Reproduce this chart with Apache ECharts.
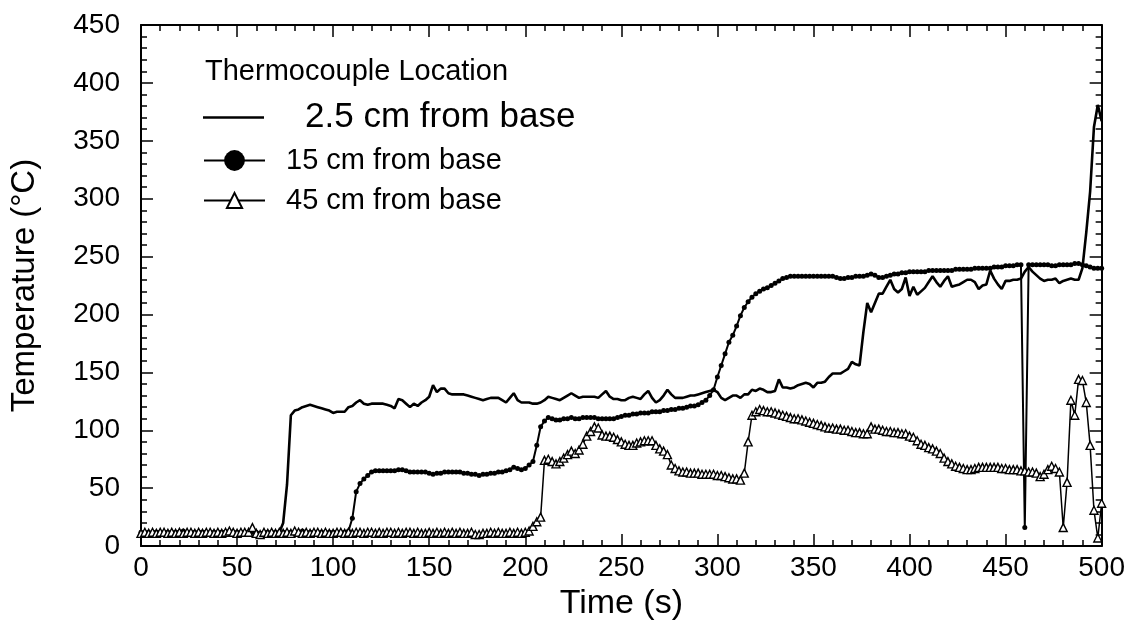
<!DOCTYPE html>
<html>
<head>
<meta charset="utf-8">
<script src="https://cdn.jsdelivr.net/npm/echarts@6/dist/echarts.min.js"></script>
<style>html,body{margin:0;padding:0;background:#fff}#chart{width:1128px;height:626px}</style>
</head>
<body>
<div id="chart"></div>
<script>
// Sampling step of the data logger (s); readings start at 0 s and end at 500 s
const timeStep = 2;
const timeEnd = 500;

const seriesNames = ['2.5 cm from base', '15 cm from base', '45 cm from base'];
const legendTitle = 'Thermocouple Location';
const xTitle = 'Time (s)';
const yTitle = 'Temperature (\u00B0C)';

// 2.5 cm from base (every 2 s)
const temp25 = [
  12,12,11,12,13,12,12,11,12,12,
  13,12,12,11,12,12,13,12,11,12,
  12,13,12,12,11,12,12,13,11,13,
  10,12,8,11,9,12,12,20,53,113,
  117,118,120,121,122,121,120,119,118,117,
  115,116,116,116,120,121,124,126,123,122,
  123,123,123,123,122,121,119,127,126,123,
  120,123,121,124,126,129,139,133,136,136,
  132,131,131,131,131,130,129,128,127,126,
  127,128,128,128,126,124,128,132,126,124,
  124,124,123,123,124,126,129,128,127,126,
  128,130,132,130,128,129,129,129,129,128,
  131,134,129,127,127,126,126,128,129,128,
  127,131,134,128,124,126,130,135,131,128,
  128,128,129,130,130,131,132,133,134,135,
  133,128,126,128,130,130,128,131,131,135,
  134,136,135,133,133,134,144,137,137,136,
  137,139,140,141,140,137,141,141,142,146,
  149,149,149,151,153,159,157,156,185,210,
  202,210,218,218,224,230,222,219,222,232,
  216,224,217,220,223,228,233,228,224,229,
  233,224,225,226,228,230,230,228,222,225,
  226,238,231,226,222,229,229,230,230,231,
  237,241,237,234,231,229,230,230,231,227,
  229,230,231,230,230,240,271,306,362,381,
  367
];

// 15 cm from base (every 2 s)
const temp15 = [
  12,12,12,11,12,12,12,12,12,12,
  12,13,12,12,12,12,12,12,12,12,
  12,12,12,13,12,12,12,12,12,12,
  12,11,12,12,12,12,12,12,12,12,
  12,12,13,12,12,12,12,12,12,12,
  12,12,12,12,13,24,47,54,58,61,
  64,65,65,65,65,65,65,66,66,65,
  64,64,64,64,64,63,62,63,63,64,
  64,64,64,64,63,63,62,62,61,62,
  62,63,63,64,64,65,66,68,67,66,
  67,70,73,87,103,108,111,110,109,109,
  110,110,111,110,110,111,111,111,111,110,
  110,110,110,110,111,112,113,113,114,114,
  115,115,115,116,116,116,117,117,118,118,
  119,119,120,121,121,122,124,126,130,135,
  146,156,166,176,182,190,199,206,211,215,
  218,220,222,223,225,227,229,231,232,233,
  233,233,233,233,233,233,233,233,233,233,
  233,232,231,231,232,232,233,233,233,234,
  235,234,232,232,233,234,235,235,236,236,
  237,237,237,237,237,238,238,238,238,238,
  238,238,239,239,239,239,239,240,240,240,
  240,240,241,241,241,242,242,242,243,243,
  16,243,243,243,243,243,243,242,242,243,
  243,243,243,244,244,243,242,241,240,240,
  240
];

// 45 cm from base (every 2 s)
const temp45 = [
  11,12,11,12,11,12,12,11,12,11,
  12,11,12,12,11,12,11,12,12,11,
  12,11,12,13,12,11,12,12,12,16,
  11,10,12,11,12,11,12,11,12,11,
  13,12,11,12,11,12,12,11,12,11,
  11,12,12,11,12,11,12,12,11,12,
  12,11,12,11,12,12,11,12,11,12,
  12,11,12,11,11,12,11,12,11,12,
  11,12,11,12,11,11,12,10,10,11,
  11,12,11,12,11,11,12,11,12,11,
  12,13,17,21,25,74,75,73,71,73,
  76,79,82,80,83,88,95,99,103,102,
  96,95,95,94,92,90,88,87,87,89,
  90,91,91,91,87,84,82,79,70,67,
  65,64,64,63,63,63,62,62,62,62,
  61,61,60,59,58,58,57,63,90,113,
  116,118,117,116,116,115,114,113,112,111,
  110,110,109,108,107,106,105,104,103,102,
  102,101,101,100,100,99,98,98,97,97,
  103,101,101,100,99,99,98,98,97,97,
  95,94,91,88,87,85,84,82,80,76,
  73,71,69,68,67,66,66,67,68,68,
  68,68,68,68,67,67,66,66,66,65,
  65,64,64,63,60,62,66,69,67,64,
  16,55,126,113,144,143,124,87,31,7,
  37
];

const time = [];
for (let t = 0; t <= timeEnd; t += timeStep) time.push(t);
const pairs = arr => arr.map((v, i) => [time[i], v]);

const FONT = "'Liberation Sans', Arial, Helvetica, sans-serif";
const BLACK = '#000';

function axis(base, extra) {
  return Object.assign({
    type: 'value',
    axisLine: { show: true, onZero: false, lineStyle: { color: BLACK, width: 2 } },
    axisTick: { show: true, inside: true, length: 12, lineStyle: { color: BLACK, width: 1.5 } },
    minorTick: { show: true, splitNumber: 5, length: 6, lineStyle: { color: BLACK, width: 1.5 } },
    splitLine: { show: false },
    minorSplitLine: { show: false },
    axisLabel: { show: true, color: BLACK, fontFamily: FONT, fontSize: 28 }
  }, base, extra);
}

const chart = echarts.init(document.getElementById('chart'), null, { renderer: 'canvas' });
chart.setOption({
  animation: false,
  backgroundColor: '#fff',
  textStyle: { fontFamily: FONT, color: BLACK },
  grid: { left: 137, right: 26, top: 25, bottom: 75, containLabel: false },
  title: {
    text: legendTitle, left: 205, top: 57, padding: 0,
    textStyle: { fontFamily: FONT, fontSize: 29, fontWeight: 'normal', color: BLACK }
  },
  legend: [
    { data: [{ name: seriesNames[0], icon: 'rect' }], left: 203, top: 100, padding: 0,
      itemWidth: 61, itemHeight: 2.5, selectedMode: false,
      textStyle: { fontFamily: FONT, fontSize: 35, color: BLACK, padding: [0, 0, 0, 36] } },
    { data: [seriesNames[1]], left: 203, top: 146, padding: 0,
      itemWidth: 61, itemHeight: 26, selectedMode: false,
      textStyle: { fontFamily: FONT, fontSize: 29, color: BLACK, padding: [0, 0, 0, 16] } },
    { data: [seriesNames[2]], left: 203, top: 186, padding: 0,
      itemWidth: 61, itemHeight: 19, selectedMode: false,
      textStyle: { fontFamily: FONT, fontSize: 29, color: BLACK, padding: [0, 0, 0, 16] } }
  ],
  xAxis: [
    axis({ min: 0, max: 500, interval: 50, position: 'bottom' }, {
      name: xTitle, nameLocation: 'middle', nameGap: 40,
      nameTextStyle: { fontFamily: FONT, fontSize: 34, color: BLACK },
      axisLabel: { show: true, color: BLACK, fontFamily: FONT, fontSize: 28, margin: 8 }
    }),
    axis({ min: 0, max: 500, interval: 50, position: 'top' }, { axisLabel: { show: false } })
  ],
  yAxis: [
    axis({ min: 0, max: 450, interval: 50, position: 'left' }, {
      name: yTitle, nameLocation: 'middle', nameGap: 100,
      nameTextStyle: { fontFamily: FONT, fontSize: 33, color: BLACK },
      axisLabel: { show: true, color: BLACK, fontFamily: FONT, fontSize: 28, margin: 21 }
    }),
    axis({ min: 0, max: 450, interval: 50, position: 'right' }, { axisLabel: { show: false } })
  ],
  series: [
    { name: seriesNames[0], type: 'line', data: pairs(temp25), symbol: 'none', showSymbol: false,
      lineStyle: { color: BLACK, width: 2.6 }, itemStyle: { color: BLACK }, z: 3 },
    { name: seriesNames[1], type: 'line', data: pairs(temp15), symbol: 'circle', symbolSize: 5,
      showAllSymbol: true,
      lineStyle: { color: BLACK, width: 2 }, itemStyle: { color: BLACK }, z: 4 },
    { name: seriesNames[2], type: 'line', data: pairs(temp45), symbol: 'triangle', symbolSize: 8,
      showAllSymbol: true,
      lineStyle: { color: BLACK, width: 1.5 }, itemStyle: { color: '#fff', borderColor: BLACK, borderWidth: 1.4 }, z: 5 }
  ]
});
</script>
</body>
</html>
